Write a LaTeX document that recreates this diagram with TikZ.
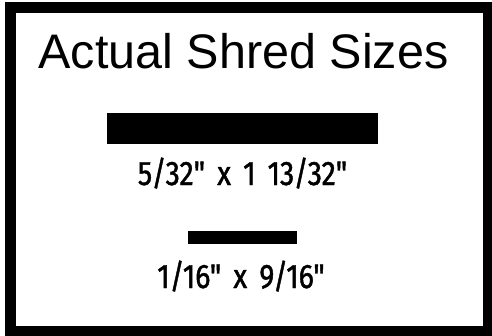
\documentclass[tikz,border=0pt]{standalone}
\usepackage{fontspec}
\usepackage{tikz}
\usetikzlibrary{positioning}
\newfontfamily\titlefont{Liberation Sans}
\newfontfamily\sizefont[FakeStretch=0.84, FakeBold=1.3, WordSpace=1.6]{Fira Sans}

\begin{document}
\begin{tikzpicture}[x=1pt, y=-1pt,
  title/.style={anchor=base, inner sep=0pt, font=\titlefont\fontsize{48.5}{48}\selectfont},
  shred/.style={fill=black, inner sep=0pt, outer sep=0pt},
  sizelabel/.style={anchor=base, inner sep=0pt, font=\sizefont\fontsize{34}{34}\selectfont}
]
  \useasboundingbox (0,0) rectangle (492,335);
  \draw[line width=11pt] (10.5,7.5) rectangle (488.5,331.5);

  \node[title] (head) at (243.5,68) {Actual Shred Sizes};

  \node[shred, minimum width=271pt, minimum height=31pt] (wide) at (242.5,128.5) {};
  \node[sizelabel] (widelbl) at (242.5,185) {5/32" x 1 13/32"};

  \node[shred, minimum width=109pt, minimum height=13pt] (narrow) at (242.5,237.5) {};
  \node[sizelabel] (narrowlbl) at (241,288) {1/16" x 9/16"};
\end{tikzpicture}
\end{document}
